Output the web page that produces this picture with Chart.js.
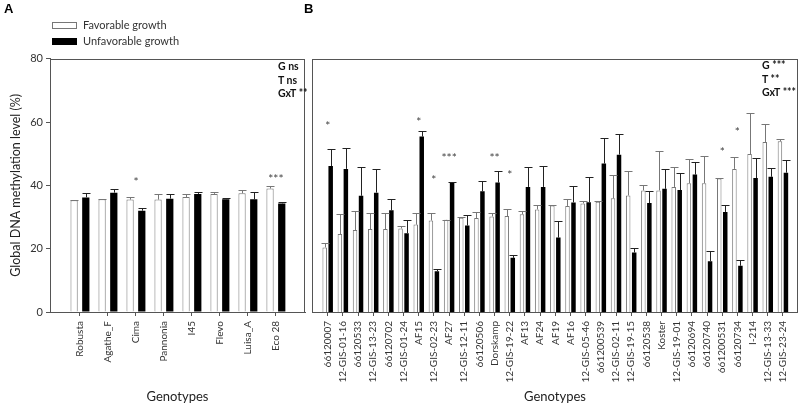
<!DOCTYPE html>
<html><head><meta charset="utf-8">
<script src="https://cdn.jsdelivr.net/npm/chart.js@4"></script>
<style>
html,body{margin:0;padding:0;background:#fff;}
#wrap{position:relative;width:800px;height:405px;overflow:hidden;font-family:Lato,"Open Sans",sans-serif;}
canvas{position:absolute;top:0;}
#ca{left:0;width:310px;height:405px;}
#cb{left:305px;width:495px;height:405px;}
.t{position:absolute;white-space:nowrap;color:#222;line-height:1;}
.letter{font-family:"Liberation Sans",Arial,sans-serif;font-weight:bold;font-size:13px;color:#000;}
.stat{font-weight:bold;font-size:10.5px;color:#111;line-height:13.5px;}
.lbox{position:absolute;width:25px;height:7px;box-sizing:border-box;}
.ltxt{font-size:11px;color:#333;}
</style></head><body>
<div id="wrap">
<canvas id="ca" width="310" height="405"></canvas>
<canvas id="cb" width="495" height="405"></canvas>
<div class="t letter" style="left:4px;top:2px;">A</div>
<div class="t letter" style="left:304px;top:2px;">B</div>
<div class="lbox" style="left:52px;top:22px;border:1px solid #777;background:#fff;"></div>
<div class="t ltxt" style="left:83px;top:19px;">Favorable growth</div>
<div class="lbox" style="left:52px;top:38px;background:#000;"></div>
<div class="t ltxt" style="left:83px;top:35px;">Unfavorable growth</div>
<div class="t stat" style="left:278px;top:60px;">G ns<br>T ns<br>GxT **</div>
<div class="t stat" style="left:762px;top:59px;">G ***<br>T **<br>GxT ***</div>
</div>
<script>
// ---- Data ----
const yTicks = [0, 20, 40, 60, 80];

const catsA = ['Robusta','Agathe_F','Cima','Pannonia','I45','Flevo','Luisa_A','Eco 28'];
const favA    = [35.3, 35.6, 35.5, 35.5, 36.3, 37.3, 37.5, 39.0];
const favAErr = [0.2, 0.2, 0.9, 1.7, 1.0, 0.7, 1.0, 0.7];
const unfA    = [36.2, 37.7, 32.0, 35.8, 37.3, 35.6, 35.6, 34.3];
const unfAErr = [1.3, 1.2, 0.7, 1.5, 0.5, 0.5, 2.3, 0.5];
const starsA  = ['', '', '*', '', '', '', '', '***'];
const starsAY = [null, null, 41.7, null, null, null, null, 42.9];

const catsB = ['66120007','12-GIS-01-16','66120533','12-GIS-13-23','66120702','12-GIS-01-24','AF15','12-GIS-02-23','AF27','12-GIS-12-11','66120506','Dorskamp','12-GIS-19-22','AF13','AF24','AF19','AF16','12-GIS-05-46','661200539','12-GIS-02-11','12-GIS-19-15','66120538','Koster','12-GIS-19-01','66120694','66120740','661200531','66120734','I-214','12-GIS-13-33','12-GIS-23-24'];
const favB    = [20.4, 24.6, 25.9, 26.2, 26.2, 26.4, 27.6, 28.9, 29.1, 29.8, 29.7, 30.2, 30.3, 30.9, 32.4, 33.6, 33.5, 34.3, 34.8, 35.9, 36.8, 38.4, 38.4, 39.5, 40.7, 40.7, 42.2, 45.2, 49.9, 53.7, 53.9];
const favBErr = [1.3, 6.2, 5.9, 5.2, 5.2, 0.7, 3.6, 2.3, 0.1, 0.2, 2.0, 1.2, 2.3, 0.9, 1.3, 0.3, 2.2, 0.9, 0.1, 7.3, 7.8, 1.7, 12.4, 6.4, 7.7, 8.7, 0.1, 3.7, 13.0, 5.6, 0.8];
const unfB    = [46.1, 45.2, 36.7, 37.7, 32.1, 24.9, 55.4, 12.9, 40.9, 27.3, 38.1, 40.9, 17.1, 39.5, 39.5, 23.5, 34.6, 34.7, 46.9, 49.7, 18.8, 34.4, 38.9, 38.5, 43.4, 16.0, 31.6, 14.6, 42.3, 42.7, 44.0];
const unfBErr = [5.5, 6.7, 9.1, 7.6, 3.7, 4.0, 1.7, 0.8, 0.1, 3.3, 3.2, 3.5, 0.8, 6.4, 6.5, 5.3, 5.3, 7.8, 7.9, 6.4, 1.3, 3.8, 6.3, 5.5, 4.1, 3.2, 2.2, 1.7, 6.2, 2.8, 4.1];
const starsB  = ['*','','','','','','*','*','***','','','**','*','','','','','','','','','','','','','','*','*','','',''];
const starsBY = [59.6,null,null,null,null,null,60.9,42.4,49.4,null,null,49.4,44.0,null,null,null,null,null,null,null,null,null,null,null,null,null,51.4,57.5,null,null,null];

// ---- Plugins ----
const errorBarPlugin = {
  id: 'errbars',
  afterDatasetsDraw(chart) {
    const ctx = chart.ctx, ys = chart.scales.y;
    chart.data.datasets.forEach((ds, di) => {
      const meta = chart.getDatasetMeta(di);
      ctx.save();
      ctx.strokeStyle = ds.errColor;
      ctx.lineWidth = 1;
      meta.data.forEach((bar, j) => {
        const v = ds.data[j].y, e = ds.errors[j];
        const yt = Math.round(ys.getPixelForValue(v + e)) + 0.5;
        const x = Math.round(bar.x) + 0.5;
        ctx.beginPath();
        ctx.moveTo(x, bar.y); ctx.lineTo(x, yt);
        ctx.moveTo(x - 4, yt); ctx.lineTo(x + 4, yt);
        ctx.stroke();
      });
      ctx.restore();
    });
  }
};
const starPlugin = {
  id: 'stars',
  afterDatasetsDraw(chart, args, opts) {
    const ctx = chart.ctx, xs = chart.scales.x, ys = chart.scales.y;
    ctx.save();
    ctx.fillStyle = '#444';
    ctx.font = '12px Lato';
    ctx.textAlign = 'center';
    ctx.textBaseline = 'alphabetic';
    opts.labels.forEach((s, i) => {
      if (!s) return;
      ctx.fillText(s, xs.getPixelForValue(i), ys.getPixelForValue(opts.ys[i]) + 6.5);
    });
    ctx.restore();
  }
};
const framePlugin = {
  id: 'frame',
  afterDraw(chart) {
    const {left, right, top, bottom} = chart.chartArea;
    const ctx = chart.ctx;
    ctx.save();
    ctx.strokeStyle = '#555';
    ctx.lineWidth = 1;
    const l = Math.round(left) + 0.5, r = Math.round(right) - 0.5, t = Math.round(top) + 0.5, b = Math.round(bottom) + 0.5;
    ctx.strokeRect(l, t, r - l, b - t);
    ctx.restore();
  }
};

function makeChart(id, cats, fav, favErr, unf, unfErr, stars, starsY, opt) {
  return new Chart(document.getElementById(id), {
    type: 'bar',
    data: {
      datasets: [
        { label: 'Favorable growth', data: fav.map((v, i) => ({x: i, y: v})), errors: favErr, errColor: '#777',
          backgroundColor: '#fff', borderColor: '#777', borderWidth: 1,
          categoryPercentage: opt.cp, barPercentage: opt.bp },
        { label: 'Unfavorable growth', data: unf.map((v, i) => ({x: i, y: v})), errors: unfErr, errColor: '#222',
          backgroundColor: '#000', borderColor: '#000', borderWidth: 0,
          categoryPercentage: opt.cp, barPercentage: opt.bp }
      ]
    },
    options: {
      responsive: false, animation: false, devicePixelRatio: 1,
      layout: { padding: opt.padding },
      plugins: { legend: {display: false}, tooltip: {enabled: false},
                 stars: { labels: stars, ys: starsY } },
      scales: {
        x: {
          type: 'linear', offset: false, min: opt.xmin, max: opt.xmax,
          afterBuildTicks: s => { s.ticks = cats.map((_, i) => ({value: i})); },
          afterFit: s => { s.height = 93; },
          ticks: { autoSkip: false, minRotation: 90, maxRotation: 90, padding: 5,
                   font: {size: 10, family: 'Lato'}, color: '#333',
                   callback: v => cats[v] },
          grid: { display: true, drawOnChartArea: false, drawTicks: true, tickLength: 4, color: '#555', offset: false },
          border: { display: true, color: '#555' },
          title: { display: true, text: 'Genotypes', font: {size: 13, family: 'Lato'}, color: '#222', padding: {top: 0, bottom: 0} }
        },
        y: opt.yaxis
      }
    },
    plugins: [errorBarPlugin, starPlugin, framePlugin]
  });
}

makeChart('ca', catsA, favA, favAErr, unfA, unfAErr, starsA, starsAY, {
  cp: 0.836, bp: 0.62, xmin: -1.07, xmax: 8.04,
  padding: {left: 0, right: 5, top: 58.7, bottom: 0},
  yaxis: {
    min: 0, max: 80,
    afterBuildTicks: s => { s.ticks = yTicks.map(v => ({value: v})); },
    afterFit: s => { s.width = 50; },
    ticks: { font: {size: 11, family: 'Lato'}, color: '#333', padding: 3 },
    grid: { display: true, drawOnChartArea: false, drawTicks: true, tickLength: 4, color: '#555' },
    border: { display: true, color: '#555' },
    title: { display: true, text: 'Global DNA methylation level (%)', font: {size: 12.5, family: 'Lato'}, color: '#222', padding: {top: 8, bottom: 0} }
  }
});

makeChart('cb', catsB, favB, favBErr, unfB, unfBErr, starsB, starsBY, {
  cp: 0.79, bp: 0.75, xmin: -1.034, xmax: 30.99,
  padding: {left: 7, right: 2, top: 58.7, bottom: 0},
  yaxis: { display: false, min: 0, max: 80,
    afterBuildTicks: s => { s.ticks = yTicks.map(v => ({value: v})); } }
});
</script>
</body></html>
